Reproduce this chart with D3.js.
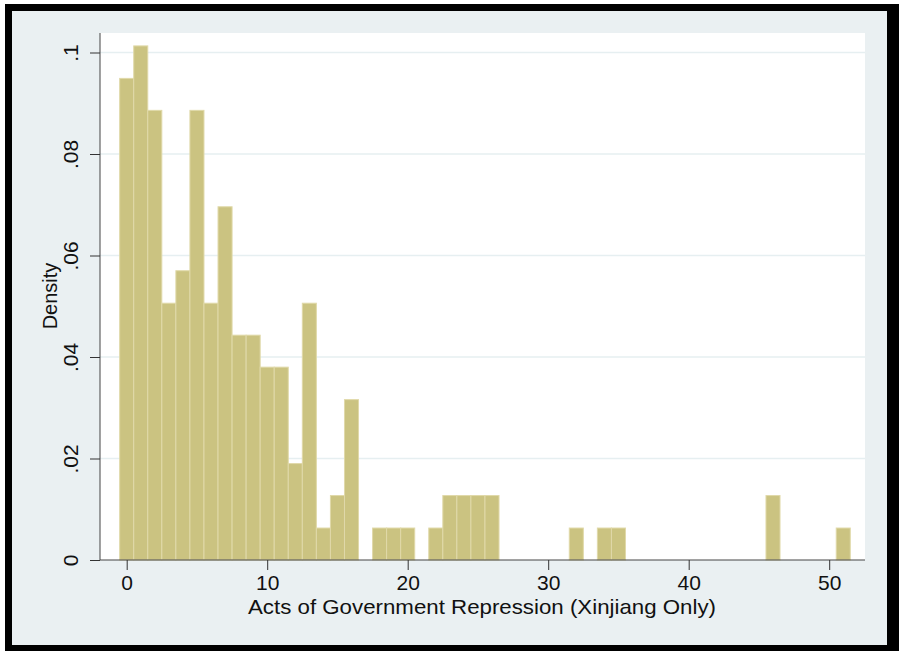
<!DOCTYPE html>
<html lang="en">
<head>
  <meta charset="UTF-8">
  <title>Histogram - Government Repression</title>
  <script src="https://cdn.jsdelivr.net/npm/d3@7"></script>
  <style>
    body { margin: 0; background: #fff; }
    svg { display: block; font-family: 'Liberation Sans', Arial, sans-serif; }
  </style>
</head>
<body>
<svg></svg>
<script>
  const width = 899, height = 651

  // discrete bins (value -> density), N = 158 observations
  const binValues = [0, 1, 2, 3, 4, 5, 6, 7, 8, 9, 10, 11, 12, 13, 14, 15, 16,
    18, 19, 20, 22, 23, 24, 25, 26, 32, 34, 35, 46, 51]
  const densities = [0.0949, 0.1013, 0.0886, 0.0506, 0.0570, 0.0886, 0.0506, 0.0696,
    0.0443, 0.0443, 0.0380, 0.0380, 0.0190, 0.0506, 0.0063, 0.0127, 0.0316,
    0.0063, 0.0063, 0.0063, 0.0063, 0.0127, 0.0127, 0.0127, 0.0127, 0.0063,
    0.0063, 0.0063, 0.0127, 0.0063]
  const xTicks = [0, 10, 20, 30, 40, 50]
  const yTicks = [0, 0.02, 0.04, 0.06, 0.08, 0.1]
  const yTickLabels = ['0', '.02', '.04', '.06', '.08', '.1']

  const data = binValues.map((v, i) => ({value: v, density: densities[i]}))

  const plot = {left: 100, right: 865, top: 33, bottom: 560}

  const svg = d3.select('svg')
      .attr('width', width)
      .attr('height', height)
      .attr('viewBox', [0, 0, width, height])

  // frame + graph region
  svg.append('rect').attr('x', 5).attr('y', 4).attr('width', width - 5).attr('height', height - 4).attr('fill', '#000')
  svg.append('rect').attr('x', 12).attr('y', 11).attr('width', 875).attr('height', 634).attr('fill', '#eaf0f2')
  svg.append('rect')
      .attr('x', plot.left).attr('y', plot.top)
      .attr('width', plot.right - plot.left).attr('height', plot.bottom - plot.top)
      .attr('fill', '#fff')

  const x = d3.scaleLinear()
      .domain([0, 50])
      .range([126.7, 829.2])

  const y = d3.scaleLinear()
      .domain([0, 0.1])
      .range([plot.bottom, 52.5])

  // grid lines
  svg.append('g')
      .selectAll('line')
      .data(yTicks.filter(d => d > 0))
      .join('line')
      .attr('x1', plot.left).attr('x2', plot.right)
      .attr('y1', d => y(d)).attr('y2', d => y(d))
      .attr('stroke', '#e6eff1')
      .attr('stroke-width', 1.5)

  // bars
  const bw = x(1) - x(0)
  svg.append('g')
      .selectAll('rect')
      .data(data)
      .join('rect')
      .attr('x', d => x(d.value - 0.5))
      .attr('y', d => y(d.density))
      .attr('width', bw)
      .attr('height', d => y(0) - y(d.density))
      .attr('fill', '#cbc381')
      .attr('stroke', '#e0d9a9')
      .attr('stroke-width', 1)

  // x axis
  const gx = svg.append('g')
      .attr('transform', `translate(0,${plot.bottom})`)
      .call(d3.axisBottom(x).tickValues(xTicks).tickSize(10).tickSizeOuter(0).tickPadding(5))
  gx.select('.domain').attr('d', `M${plot.left},0H${plot.right}`).attr('stroke', '#444')
  gx.selectAll('.tick line').attr('stroke', '#333')
  gx.selectAll('.tick text').attr('font-size', 21).attr('fill', '#111')

  // y axis
  const gy = svg.append('g')
      .attr('transform', `translate(${plot.left},0)`)
      .call(d3.axisLeft(y).tickValues(yTicks).tickFormat((d, i) => yTickLabels[i]).tickSize(10).tickSizeOuter(0))
  gy.select('.domain').attr('d', `M0,${plot.top}V${plot.bottom}`).attr('stroke', '#444')
  gy.selectAll('.tick line').attr('stroke', '#333')
  gy.selectAll('.tick text')
      .attr('font-size', 21)
      .attr('fill', '#111')
      .attr('x', null)
      .attr('text-anchor', 'middle')
      .attr('transform', 'translate(-29,0) rotate(-90)')
      .attr('dy', '0.35em')

  // axis titles
  svg.append('text')
      .attr('x', 482).attr('y', 614)
      .attr('text-anchor', 'middle')
      .attr('font-size', 21)
      .attr('textLength', 468)
      .attr('lengthAdjust', 'spacingAndGlyphs')
      .attr('fill', '#111')
      .text('Acts of Government Repression (Xinjiang Only)')

  svg.append('text')
      .attr('transform', 'translate(57,296) rotate(-90)')
      .attr('text-anchor', 'middle')
      .attr('font-size', 20)
      .attr('fill', '#111')
      .text('Density')
</script>
</body>
</html>
